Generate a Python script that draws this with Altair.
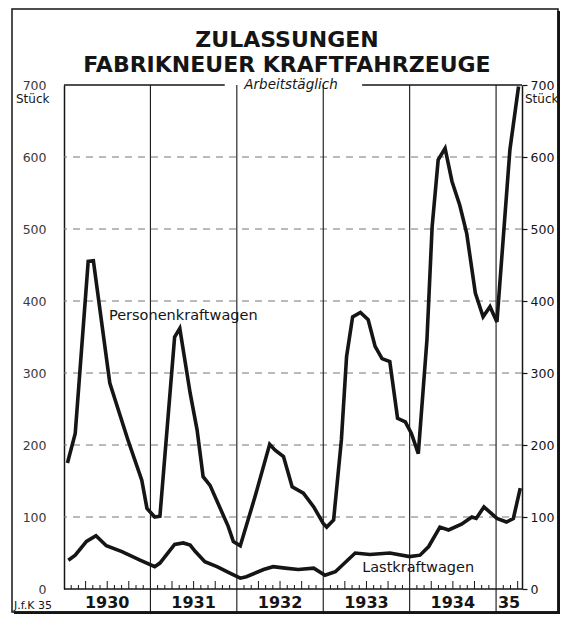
import altair as alt
import pandas as pd

# ---- data (time as decimal year, value = vehicles per working day)
pkw_t = [1930.04, 1930.13, 1930.28, 1930.34, 1930.53, 1930.74, 1930.90, 1930.96, 1931.05, 1931.11,
         1931.28, 1931.34, 1931.46, 1931.54, 1931.61, 1931.69, 1931.90, 1931.96, 1932.04, 1932.21,
         1932.38, 1932.44, 1932.54, 1932.64, 1932.77, 1932.89, 1933.00, 1933.04, 1933.12, 1933.21,
         1933.27, 1933.34, 1933.43, 1933.52, 1933.60, 1933.68, 1933.77, 1933.86, 1933.95, 1934.02,
         1934.10, 1934.20, 1934.26, 1934.33, 1934.41, 1934.49, 1934.58, 1934.66, 1934.76, 1934.85,
         1934.93, 1935.01, 1935.16, 1935.26]
pkw_v = [175, 216, 455, 456, 286, 207, 151, 112, 100, 101,
         350, 362, 272, 221, 156, 144, 87, 66, 60, 128,
         201, 193, 184, 142, 133, 114, 91, 86, 96, 207,
         323, 378, 384, 374, 337, 320, 316, 237, 232, 216,
         188, 346, 503, 596, 612, 566, 533, 494, 411, 378,
         392, 371, 610, 698]

lkw_t = [1930.05, 1930.13, 1930.26, 1930.37, 1930.49, 1930.67, 1930.88, 1931.05, 1931.11, 1931.28,
         1931.38, 1931.46, 1931.52, 1931.63, 1931.77, 1931.92, 1932.04, 1932.11, 1932.31, 1932.42,
         1932.56, 1932.71, 1932.89, 1933.02, 1933.14, 1933.37, 1933.54, 1933.77, 1934.00, 1934.12,
         1934.22, 1934.35, 1934.45, 1934.60, 1934.72, 1934.77, 1934.86, 1935.01, 1935.12, 1935.20,
         1935.28]
lkw_v = [40, 47, 66, 74, 60, 52, 40, 31, 36, 62,
         64, 61, 52, 38, 31, 22, 15, 17, 27, 31,
         29, 27, 29, 19, 24, 50, 48, 50, 45, 47,
         59, 86, 82, 90, 100, 98, 114, 98, 93, 98,
         140]

title_lines = ["ZULASSUNGEN", "FABRIKNEUER KRAFTFAHRZEUGE"]
year_labels = ["1930", "1931", "1932", "1933", "1934", "35"]
year_label_pos = [1930.5, 1931.5, 1932.5, 1933.5, 1934.5, 1935.15]
year_bounds = [1931, 1932, 1933, 1934, 1935]
y_ticks = [0, 100, 200, 300, 400, 500, 600, 700]
grid_values = [100, 200, 300, 400, 500, 600]
series_names = ["Personenkraftwagen", "Lastkraftwagen"]
series_label_t = [1930.52, 1933.45]
series_label_v = [374, 24]

# ---- layout
W, H = 458, 504
X_MIN, X_MAX = 1930.0, 1935.30
FONT = "DejaVu Sans"
INK = "#151515"

xs = alt.Scale(domain=[X_MIN, X_MAX], nice=False, zero=False)
ys = alt.Scale(domain=[0, 700], nice=False, zero=True)

lines_df = pd.DataFrame({
    "t": pkw_t + lkw_t,
    "v": pkw_v + lkw_v,
    "serie": [series_names[0]] * len(pkw_t) + [series_names[1]] * len(lkw_t),
})

# month ticks on the time axis (every month, quarters longer)
month_k = [k for k in range(1, 64) if k % 12 != 0]
short_ticks = pd.DataFrame({"t": [X_MIN + k / 12 for k in month_k if k % 3 != 0]})
long_ticks = pd.DataFrame({"t": [X_MIN + k / 12 for k in month_k if k % 3 == 0]})

one = pd.DataFrame({"a": [0]})

grid = alt.Chart(pd.DataFrame({"v": grid_values})).mark_rule(
    color="#777", strokeWidth=1, strokeDash=[7, 6]
).encode(y=alt.Y("v:Q", scale=ys, axis=None))

right_axis = alt.Chart(pd.DataFrame({"v": y_ticks})).mark_rule(opacity=0).encode(
    y=alt.Y("v:Q", scale=ys, axis=alt.Axis(
        orient="right", values=y_ticks, title=None, grid=False,
        domain=True, domainColor=INK, domainWidth=1.5,
        ticks=True, tickSize=5, tickColor=INK, tickWidth=1.2,
        labelPadding=3, labelFontSize=12.5, labelFont=FONT, labelColor=INK,
    ))
)

bottom_line = alt.Chart(pd.DataFrame({"v": [0]})).mark_rule(color=INK, strokeWidth=1.5).encode(
    y=alt.Y("v:Q", scale=ys, axis=None))

year_rules = alt.Chart(pd.DataFrame({"t": year_bounds})).mark_rule(color=INK, strokeWidth=1.1).encode(
    x=alt.X("t:Q", scale=xs, axis=None), y=alt.value(0), y2=alt.value(H + 24))

sticks = alt.Chart(short_ticks).mark_rule(color=INK, strokeWidth=1).encode(
    x=alt.X("t:Q", scale=xs, axis=None), y=alt.value(H), y2=alt.value(H - 4))
lticks = alt.Chart(long_ticks).mark_rule(color=INK, strokeWidth=1).encode(
    x=alt.X("t:Q", scale=xs, axis=None), y=alt.value(H), y2=alt.value(H - 8))

top_line = alt.Chart(pd.DataFrame({"t": [X_MIN, 1933.45], "t2": [1931.86, X_MAX]})).mark_rule(
    color=INK, strokeWidth=1.3).encode(
    x=alt.X("t:Q", scale=xs, axis=None), x2="t2:Q", y=alt.value(0))

lines = alt.Chart(lines_df).mark_line(color=INK, strokeWidth=3.6, strokeJoin="miter").encode(
    x=alt.X("t:Q", scale=xs, axis=None),
    y=alt.Y("v:Q", scale=ys, axis=alt.Axis(
        orient="left", values=y_ticks, title=None, grid=False,
        domain=True, domainColor=INK, domainWidth=1.5, ticks=False,
        labelPadding=18, labelFontSize=12.5, labelFont=FONT, labelColor="#3a3a3a",
    )),
    detail="serie:N",
)

series_text = alt.Chart(pd.DataFrame({
    "t": series_label_t, "v": series_label_v, "label": series_names})).mark_text(
    align="left", baseline="alphabetic", font=FONT, fontSize=14.5, color=INK
).encode(x=alt.X("t:Q", scale=xs, axis=None), y=alt.Y("v:Q", scale=ys, axis=None), text="label:N")

year_text = alt.Chart(pd.DataFrame({"t": year_label_pos, "label": year_labels})).mark_text(
    align="center", baseline="middle", font=FONT, fontSize=16, fontWeight="bold", color=INK
).encode(x=alt.X("t:Q", scale=xs, axis=None), y=alt.value(H + 14), text="label:N")

title1 = alt.Chart(one).mark_text(
    text=title_lines[0], font=FONT, fontSize=22, fontWeight="bold", color=INK,
    align="center", baseline="alphabetic"
).encode(x=alt.value(223), y=alt.value(-38))
title2 = alt.Chart(one).mark_text(
    text=title_lines[1], font=FONT, fontSize=22, fontWeight="bold", color=INK,
    align="center", baseline="alphabetic"
).encode(x=alt.value(223), y=alt.value(-13))

sub = alt.Chart(one).mark_text(
    text="Arbeitstäglich", font=FONT, fontSize=13.5, fontStyle="italic", color=INK,
    align="center", baseline="middle"
).encode(x=alt.value(227), y=alt.value(0))

stueck_l = alt.Chart(one).mark_text(
    text="Stück", font=FONT, fontSize=12, color=INK, align="left", baseline="middle"
).encode(x=alt.value(-48), y=alt.value(14))
stueck_r = alt.Chart(one).mark_text(
    text="Stück", font=FONT, fontSize=12, color=INK, align="left", baseline="middle"
).encode(x=alt.value(W + 3), y=alt.value(14))

jfk = alt.Chart(one).mark_text(
    text="J.f.K 35", font=FONT, fontSize=11, color=INK, align="left", baseline="alphabetic"
).encode(x=alt.value(-50), y=alt.value(H + 20))

frame = alt.Chart(one).mark_rect(fillOpacity=0, stroke=INK, strokeWidth=1.5).encode(
    x=alt.value(-52), x2=alt.value(W + 36), y=alt.value(-76), y2=alt.value(H + 23))
shadow_r = alt.Chart(one).mark_rule(color=INK, strokeWidth=3.5).encode(
    x=alt.value(W + 37), y=alt.value(-74), y2=alt.value(H + 25))
shadow_b = alt.Chart(one).mark_rule(color=INK, strokeWidth=3.5).encode(
    x=alt.value(-50), x2=alt.value(W + 38), y=alt.value(H + 24))

chart = alt.layer(
    frame, shadow_r, shadow_b, grid, right_axis, bottom_line, year_rules, sticks, lticks, top_line,
    lines, series_text, year_text, title1, title2, sub, stueck_l, stueck_r, jfk,
).resolve_axis(y="independent").properties(
    width=W, height=H,
    autosize=alt.AutoSizeParams(type="none"),
    padding={"left": 56, "top": 77, "right": 38, "bottom": 25},
    background="white",
).configure_view(stroke=None)

chart.save("out.html", embed_options={"renderer": "svg", "actions": False})
